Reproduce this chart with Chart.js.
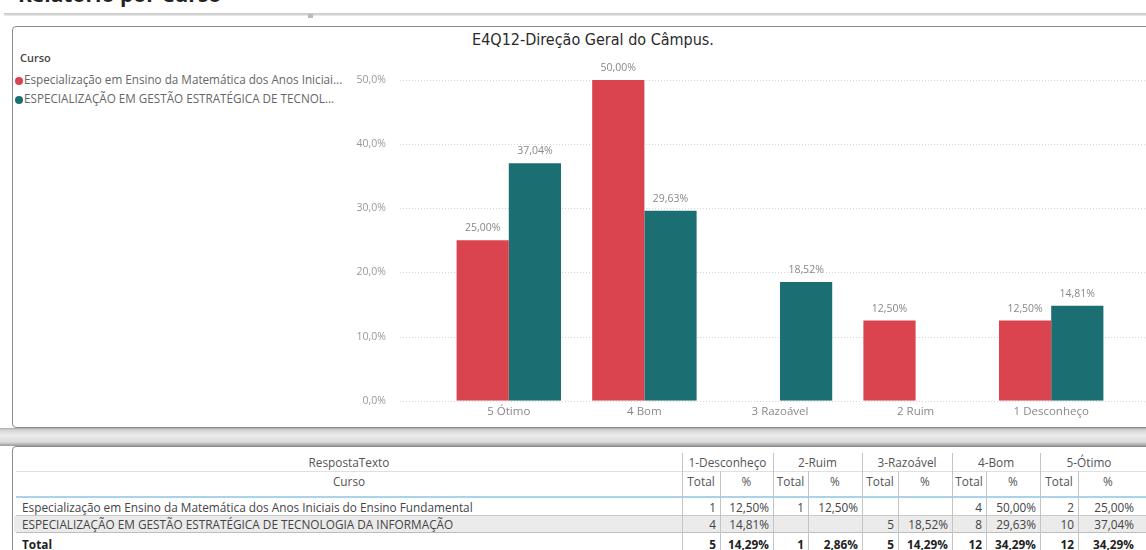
<!DOCTYPE html>
<html><head><meta charset="utf-8">
<script src="https://cdn.jsdelivr.net/npm/chart.js@4/dist/chart.umd.min.js"></script>
<style>
html,body{margin:0;padding:0;width:1146px;height:550px;overflow:hidden;background:#fff;font-family:"Open Sans",sans-serif;}
.abs{position:absolute;}
#topText{position:absolute;left:0;top:0;width:1146px;height:13px;overflow:hidden;}
#topText span{position:absolute;left:18px;top:-20px;font:bold 21px "Open Sans";color:#222;white-space:nowrap;}
#topline{position:absolute;left:4px;top:13px;width:1142px;height:3px;background:linear-gradient(#c4c4c4,#ececec);}
#handle{position:absolute;left:308px;top:14px;width:5px;height:4px;background:#bbb;}
#card1{position:absolute;left:12px;top:26px;width:1160px;height:402px;border:1.5px solid #8c8c8c;border-radius:4px;box-sizing:border-box;background:#fff;}
#sep{position:absolute;left:0;top:428px;width:1146px;height:18px;background:linear-gradient(#a8a8a8 0px,#d4d4d4 2px,#ebebeb 7px,#dcdcdc 14px,#9a9a9a 18px);}
#card2{position:absolute;left:12px;top:446px;width:1160px;height:140px;border:1.5px solid #8c8c8c;border-radius:4px;box-sizing:border-box;background:#fff;}
#title{position:absolute;left:393px;width:400px;top:30px;text-align:center;font:16px "DejaVu Sans Condensed","DejaVu Sans",sans-serif;color:#2a2a2a;}
#legend{position:absolute;left:15px;top:50px;font:11.7px "Open Sans";color:#666;}
.lgHead{position:absolute;left:5px;top:0px;color:#444;font-weight:600;white-space:nowrap;font-size:11px;}
.lgItem{position:absolute;left:0;white-space:nowrap;line-height:14px;}
.dot{display:inline-block;width:8px;height:8px;border-radius:50%;margin-right:1px;vertical-align:-0.5px;}
#chart{position:absolute;left:0;top:0;}
.cell{position:absolute;height:16px;line-height:16px;font-size:11.8px;color:#444;white-space:nowrap;overflow:hidden;}
</style></head>
<body>
<div id="topText"><span>Relatório por Curso</span></div>
<div id="topline"></div>
<div id="handle"></div>
<div id="card1"></div>
<div id="sep"></div>
<div id="card2"></div>
<div id="table"></div>
<div id="title">E4Q12-Direção Geral do Câmpus.</div>
<div id="legend"></div>
<canvas id="chart" width="1146" height="462"></canvas>
<script>
// ---- data ----
const categories = ['5 Ótimo', '4 Bom', '3 Razoável', '2 Ruim', '1 Desconheço'];
const seriesNames = ['Especialização em Ensino da Matemática dos Anos Iniciais do Ensino Fundamental',
                     'ESPECIALIZAÇÃO EM GESTÃO ESTRATÉGICA DE TECNOLOGIA DA INFORMAÇÃO'];
const legendNames = ['Especialização em Ensino da Matemática dos Anos Iniciai...',
                     'ESPECIALIZAÇÃO EM GESTÃO ESTRATÉGICA DE TECNOL...'];
const matematicaPct = [25.00, 50.00, null, 12.50, 12.50];
const gestaoTIPct = [37.04, 29.63, 18.52, null, 14.81];
const yTickValues = [0, 10, 20, 30, 40, 50];
const colors = ['#D9444F', '#1B6F73'];

// table data
const tableGroups = ['1-Desconheço', '2-Ruim', '3-Razoável', '4-Bom', '5-Ótimo'];
const tableRowNames = [seriesNames[0], seriesNames[1], 'Total'];
const tableTotals = [
  ['1', '1', '', '4', '2'],
  ['4', '', '5', '8', '10'],
  ['5', '1', '5', '12', '12']
];
const tablePcts = [
  ['12,50%', '12,50%', '', '50,00%', '25,00%'],
  ['14,81%', '', '18,52%', '29,63%', '37,04%'],
  ['14,29%', '2,86%', '14,29%', '34,29%', '34,29%']
];

// ---- legend ----
const lg = document.getElementById('legend');
lg.innerHTML = '<div class="lgHead">Curso</div>' + legendNames.map((n, i) =>
  `<div class="lgItem" style="top:${[22, 41][i]}px"><span class="dot" style="background:${colors[i]}"></span>${n}</div>`).join('');

// ---- table ----
const tb = document.getElementById('table');
function cell(txt, x0, x1, yc, align, extra) {
  const d = document.createElement('div');
  d.className = 'cell';
  d.style.left = x0 + 'px'; d.style.width = (x1 - x0) + 'px';
  d.style.top = (yc - 8) + 'px'; d.style.textAlign = align;
  if (extra) Object.assign(d.style, extra);
  d.textContent = txt; tb.appendChild(d);
}
function line(x, y, w, h, c) {
  const d = document.createElement('div');
  d.className = 'abs';
  Object.assign(d.style, {left: x + 'px', top: y + 'px', width: w + 'px', height: h + 'px', background: c});
  tb.appendChild(d);
}
const gEdges = [682, 773, 862, 952, 1040, 1138];
const gSplit = [720, 808, 898, 986, 1078];
line(14, 516, 1146, 16, '#ebebeb');
line(16, 471, 1130, 1, '#e0e0e0');
line(16, 496, 1130, 2, '#a9d2ee');
line(16, 515, 1130, 1, '#c8c8c8');
line(16, 532, 1130, 1, '#bdbdbd');
gEdges.slice(0, 5).forEach(x => line(x, 453, 1, 110, '#c4c4c4'));
gSplit.forEach(x => line(x, 471, 1, 90, '#c4c4c4'));
cell('RespostaTexto', 16, 682, 462, 'center', {color: '#555'});
cell('Curso', 16, 682, 481, 'center', {color: '#555'});
tableGroups.forEach((g, i) => {
  cell(g, gEdges[i], gEdges[i + 1], 462, 'center', {color: '#555'});
  cell('Total', gEdges[i], gSplit[i], 481, 'center', {color: '#555'});
  cell('%', gSplit[i], gEdges[i + 1], 481, 'center', {color: '#555'});
});
const rowY = [507, 524, 544];
tableRowNames.forEach((n, r) => {
  const bold = r === 2 ? {fontWeight: '700', color: '#222'} : null;
  cell(n, 22, 680, rowY[r], 'left', bold);
  tableGroups.forEach((g, i) => {
    cell(tableTotals[r][i], gEdges[i], gSplit[i] - 4, rowY[r], 'right', bold);
    cell(tablePcts[r][i], gSplit[i], gEdges[i + 1] - 4, rowY[r], 'right', bold);
  });
});

// ---- chart ----
const fmt = (v, d) => v.toFixed(d).replace('.', ',') + '%';
const gridPlugin = {
  id: 'gridExt',
  beforeDatasetsDraw(chart) {
    const ys = chart.scales.y, ctx = chart.ctx;
    ctx.save();
    ctx.strokeStyle = '#d6d6d6'; ctx.lineWidth = 1; ctx.setLineDash([1, 2]);
    yTickValues.forEach(v => {
      const py = Math.round(ys.getPixelForValue(v)) + 0.5;
      ctx.beginPath(); ctx.moveTo(400, py); ctx.lineTo(1146, py); ctx.stroke();
    });
    ctx.restore();
  }
};
const labelPlugin = {
  id: 'valLabels',
  afterDatasetsDraw(chart) {
    const ctx = chart.ctx;
    ctx.save();
    ctx.font = '10.5px "Open Sans"'; ctx.fillStyle = '#888';
    ctx.textAlign = 'center'; ctx.textBaseline = 'middle';
    chart.data.datasets.forEach((ds, di) => {
      const meta = chart.getDatasetMeta(di);
      meta.data.forEach((el, i) => {
        const v = ds.data[i];
        if (v === null || v === undefined) return;
        ctx.fillText(fmt(v, 2), el.x, el.y - 12);
      });
    });
    ctx.restore();
  }
};
new Chart(document.getElementById('chart'), {
  type: 'bar',
  data: {
    labels: categories,
    datasets: [
      {label: seriesNames[0], data: matematicaPct, backgroundColor: colors[0], borderWidth: 0, categoryPercentage: 0.77, barPercentage: 1},
      {label: seriesNames[1], data: gestaoTIPct, backgroundColor: colors[1], borderWidth: 0, categoryPercentage: 0.77, barPercentage: 1}
    ]
  },
  options: {
    responsive: false, animation: false, devicePixelRatio: 1,
    layout: {padding: {left: 0, right: 27, top: 80, bottom: 8}},
    plugins: {legend: {display: false}, title: {display: false}, tooltip: {enabled: false}},
    scales: {
      x: {
        grid: {display: false, drawTicks: false}, border: {display: false},
        ticks: {padding: 4, color: '#888', font: {family: 'Open Sans', size: 11.5}, maxRotation: 0},
        afterFit: s => { s.height = 20; }
      },
      y: {
        min: 0, max: 50,
        grid: {display: false, drawTicks: false}, border: {display: false},
        afterBuildTicks: s => { s.ticks = yTickValues.map(v => ({value: v})); },
        ticks: {padding: 55, color: '#999', font: {family: 'Open Sans', size: 10.5}, callback: v => fmt(v, 1)},
        afterFit: s => { s.width = 441; }
      }
    }
  },
  plugins: [gridPlugin, labelPlugin]
});
</script>
</body></html>
